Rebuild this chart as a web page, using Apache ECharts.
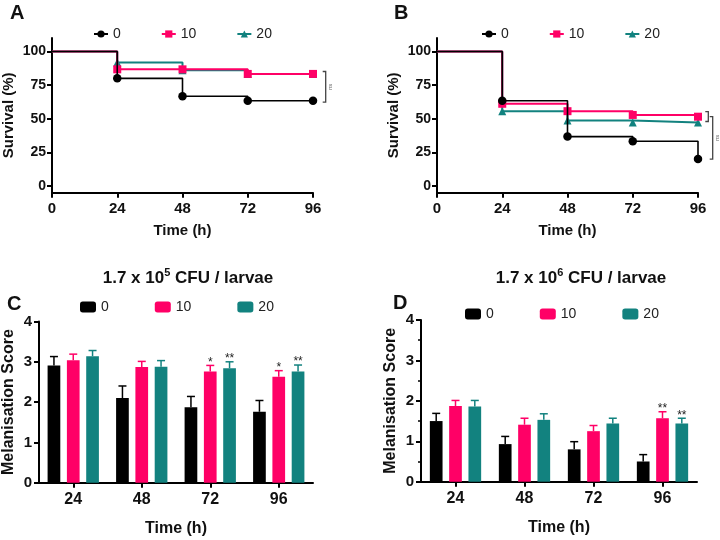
<!DOCTYPE html>
<html><head><meta charset="utf-8">
<script src="https://cdn.jsdelivr.net/npm/echarts@6/dist/echarts.min.js"></script>
<style>html,body{margin:0;padding:0;background:#fff}#c{width:720px;height:540px}</style>
</head><body><div id="c"></div>
<script>
// ---------- data ----------
const times = [0, 24, 48, 72, 96];
const survA0 = [100, 80, 66.7, 63.3, 63.3];
const survA10 = [100, 86.7, 86.7, 83.3, 83.3];
const survA20 = [100, 91.7, 86.1, 83.3, 83.3];
const survB0 = [100, 63.3, 36.7, 33.3, 20];
const survB10 = [100, 61.1, 55.6, 52.8, 51.5];
const survB20 = [100, 55.6, 48.6, 47.2, 47.2];
const survTicks = [0, 25, 50, 75, 100];

const timeCats = ['24', '48', '72', '96'];
const melC0 = [2.91, 2.10, 1.87, 1.76];
const errC0 = [0.22, 0.30, 0.27, 0.28];
const melC10 = [3.04, 2.87, 2.76, 2.63];
const errC10 = [0.15, 0.14, 0.15, 0.15];
const melC20 = [3.14, 2.88, 2.84, 2.76];
const errC20 = [0.14, 0.15, 0.16, 0.16];
const melD0 = [1.50, 0.93, 0.80, 0.50];
const errD0 = [0.19, 0.19, 0.19, 0.17];
const melD10 = [1.87, 1.41, 1.25, 1.57];
const errD10 = [0.14, 0.16, 0.14, 0.16];
const melD20 = [1.86, 1.53, 1.44, 1.44];
const errD20 = [0.15, 0.15, 0.13, 0.13];
const sigNone = ['', '', '', ''];
const sigC10 = ['', '', '*', '*'];
const sigC20 = ['', '', '**', '**'];
const sigD10 = ['', '', '', '**'];
const sigD20 = ['', '', '', '**'];

// ---------- style ----------
const FONT = 'Liberation Sans, Arial, sans-serif';
const BLACK = '#000000', PINK = '#ff0066', TEAL = '#12827f';
const COLORS = [BLACK, PINK, TEAL];
const BAR_W = 12.7, BAR_GAP = '52%', PITCH = 19.3;

const chart = echarts.init(document.getElementById('c'), null, {renderer: 'canvas'});

function survX(gi) {
  return {
    type: 'value', gridIndex: gi, min: 0, max: 96, interval: 24,
    name: 'Time (h)', nameLocation: 'middle', nameGap: 31,
    nameTextStyle: {fontFamily: FONT, fontWeight: 'bold', fontSize: 15, color: '#111'},
    axisLine: {onZero: false, lineStyle: {color: '#000', width: 2}},
    axisTick: {show: true, length: 5, lineStyle: {color: '#000', width: 2}},
    axisLabel: {fontFamily: FONT, fontWeight: 'bold', fontSize: 15, color: '#111', margin: 9},
    splitLine: {show: false}
  };
}
function survY(gi) {
  return {
    type: 'value', gridIndex: gi, min: -5, max: 110,
    name: 'Survival (%)', nameLocation: 'middle', nameGap: 36, nameRotate: 90,
    nameTextStyle: {fontFamily: FONT, fontWeight: 'bold', fontSize: 15, color: '#111'},
    axisLine: {show: true, onZero: false, lineStyle: {color: '#000', width: 2}},
    axisTick: {show: true, length: 5, customValues: survTicks, lineStyle: {color: '#000', width: 2}},
    axisLabel: {fontFamily: FONT, fontWeight: 'bold', fontSize: 14, color: '#111', margin: 6, customValues: survTicks},
    splitLine: {show: false}
  };
}
function barX(gi) {
  return {
    type: 'category', gridIndex: gi, data: timeCats,
    name: 'Time (h)', nameLocation: 'middle', nameGap: 38,
    nameTextStyle: {fontFamily: FONT, fontWeight: 'bold', fontSize: 16, color: '#111'},
    axisLine: {lineStyle: {color: '#000', width: 2}},
    axisTick: {show: true, alignWithLabel: true, length: 5, lineStyle: {color: '#000', width: 2}},
    axisLabel: {fontFamily: FONT, fontWeight: 'bold', fontSize: 16, color: '#111', margin: 9}
  };
}
function barY(gi, minor) {
  return {
    type: 'value', gridIndex: gi, min: 0, max: 4, interval: 1,
    name: 'Melanisation Score', nameLocation: 'middle', nameGap: 22, nameRotate: 90,
    nameTextStyle: {fontFamily: FONT, fontWeight: 'bold', fontSize: 16, color: '#111'},
    axisLine: {show: true, lineStyle: {color: '#000', width: 2}},
    axisTick: {show: true, length: 5, lineStyle: {color: '#000', width: 2}},
    minorTick: {show: minor, splitNumber: 2, length: 3, lineStyle: {color: '#000', width: 1.5}},
    axisLabel: {fontFamily: FONT, fontWeight: 'bold', fontSize: 15, color: '#111', margin: 7},
    splitLine: {show: false}
  };
}

const symbols = ['circle', 'rect', 'triangle'];
function survSeries(name, gi, vals, idx) {
  return {
    type: 'line', name: name, xAxisIndex: gi, yAxisIndex: gi, step: 'end',
    data: times.map((t, i) => i === 0 ? {value: [t, vals[i]], symbol: 'none'} : [t, vals[i]]),
    symbol: symbols[idx], symbolSize: idx === 0 ? 8.5 : 8,
    showAllSymbol: true,
    lineStyle: {color: COLORS[idx], width: idx === 0 ? 1.6 : 2},
    itemStyle: {color: COLORS[idx]},
    z: idx === 0 ? 4 : (idx === 1 ? 3 : 2),
    emphasis: {disabled: true}, animation: false
  };
}
function barSeries(name, gi, vals, idx) {
  return {
    type: 'bar', name: name, xAxisIndex: gi, yAxisIndex: gi, data: vals,
    barWidth: BAR_W, barGap: BAR_GAP,
    itemStyle: {color: COLORS[idx]}, z: 2, animation: false
  };
}
function errSeries(gi, vals, errs, sigs, idx) {
  return {
    type: 'custom', xAxisIndex: gi, yAxisIndex: gi, z: 5, animation: false,
    data: vals.map((v, i) => [i, v, errs[i]]),
    encode: {x: 0, y: 1},
    renderItem: function (params, api) {
      const i = api.value(0), v = api.value(1), e = api.value(2);
      const base = api.coord([i, v]);
      const top = api.coord([i, v + e]);
      const x = base[0] + (idx - 1) * PITCH;
      const children = [
        {type: 'line', shape: {x1: x, y1: base[1], x2: x, y2: top[1]}, style: {stroke: COLORS[idx], lineWidth: 1.5}},
        {type: 'line', shape: {x1: x - 4, y1: top[1], x2: x + 4, y2: top[1]}, style: {stroke: COLORS[idx], lineWidth: 1.5}}
      ];
      const s = sigs[params.dataIndex];
      if (s) children.push({type: 'text', style: {x: x, y: top[1] + 3, text: s, align: 'center', verticalAlign: 'bottom',
        font: '12px ' + FONT, fill: '#222'}});
      return {type: 'group', children: children};
    }
  };
}

const lineLegend = {
  orient: 'horizontal', padding: 0, formatter: n => n.slice(1),
  textStyle: {fontFamily: FONT, fontSize: 14, color: '#222'},
  itemWidth: 14, itemHeight: 9, itemGap: 40, selectedMode: false
};
const barLegend = {
  orient: 'horizontal', padding: 0, formatter: n => n.slice(1),
  textStyle: {fontFamily: FONT, fontSize: 14, color: '#222'},
  itemWidth: 16, itemHeight: 11, itemGap: 46, selectedMode: false
};

const titleRich = {
  n: {fontFamily: FONT, fontWeight: 'bold', fontSize: 17, color: '#111', lineHeight: 22},
  s: {fontFamily: FONT, fontWeight: 'bold', fontSize: 11, color: '#111', verticalAlign: 'top', lineHeight: 11}
};
const letterStyle = {fontFamily: FONT, fontWeight: 'bold', fontSize: 20, color: '#111'};

const option = {
  backgroundColor: '#fff',
  animation: false,
  title: [
    {text: 'A', left: 10, top: 3, padding: 0, textStyle: letterStyle},
    {text: 'B', left: 394, top: 3, padding: 0, textStyle: letterStyle},
    {text: 'C', left: 7, top: 294, padding: 0, textStyle: letterStyle},
    {text: 'D', left: 393, top: 293, padding: 0, textStyle: letterStyle},
    {text: '{n|1.7 x 10}{s|5}{n| CFU / larvae}', left: 188, top: 267, padding: 0, textAlign: 'center',
      textStyle: {rich: titleRich}},
    {text: '{n|1.7 x 10}{s|6}{n| CFU / larvae}', left: 581, top: 267, padding: 0, textAlign: 'center',
      textStyle: {rich: titleRich}}
  ],
  legend: [
    Object.assign({}, lineLegend, {data: ['A0', 'A10', 'A20'], left: 93, top: 27}),
    Object.assign({}, lineLegend, {data: ['B0', 'B10', 'B20'], left: 481, top: 27}),
    Object.assign({}, barLegend, {data: ['C0', 'C10', 'C20'], left: 80, top: 300}),
    Object.assign({}, barLegend, {data: ['D0', 'D10', 'D20'], left: 465, top: 307})
  ],
  grid: [
    {left: 52, top: 38, width: 261, height: 154.7},
    {left: 437, top: 38, width: 261, height: 154.7},
    {left: 37, top: 321.5, width: 276, height: 161.2},
    {left: 421, top: 320, width: 276, height: 161.7}
  ],
  xAxis: [survX(0), survX(1), barX(2), barX(3)],
  yAxis: [survY(0), survY(1), barY(2, false), barY(3, true)],
  series: [
    survSeries('A20', 0, survA20, 2), survSeries('A10', 0, survA10, 1), survSeries('A0', 0, survA0, 0),
    survSeries('B20', 1, survB20, 2), survSeries('B10', 1, survB10, 1), survSeries('B0', 1, survB0, 0),
    barSeries('C0', 2, melC0, 0), barSeries('C10', 2, melC10, 1), barSeries('C20', 2, melC20, 2),
    barSeries('D0', 3, melD0, 0), barSeries('D10', 3, melD10, 1), barSeries('D20', 3, melD20, 2),
    errSeries(2, melC0, errC0, sigNone, 0), errSeries(2, melC10, errC10, sigC10, 1), errSeries(2, melC20, errC20, sigC20, 2),
    errSeries(3, melD0, errD0, sigNone, 0), errSeries(3, melD10, errD10, sigD10, 1), errSeries(3, melD20, errD20, sigD20, 2)
  ]
};
chart.setOption(option);

// ---------- significance brackets (annotations placed from data via the chart's scales) ----------
function bracketEls(x, y1, y2, label) {
  const els = [{type: 'polyline', shape: {points: [[x - 3, y1], [x, y1], [x, y2], [x - 3, y2]]},
    style: {stroke: '#444', lineWidth: 1.3, fill: null}, z: 10}];
  if (label) els.push({type: 'text', x: x + 5, y: (y1 + y2) / 2, rotation: Math.PI / 2,
    style: {text: label, font: '6px ' + FONT, fill: '#666', align: 'center', verticalAlign: 'middle'}, z: 10});
  return els;
}
const last = times.length - 1;
const px = (gi, v) => chart.convertToPixel({gridIndex: gi}, [times[last], v]);
// panel A: 10/20 vs 0
const aTop = px(0, survA10[last]), aBot = px(0, survA0[last]);
const elsA = bracketEls(aTop[0] + 12.7, aTop[1] - 2.4, aBot[1] + 1.3, 'ns');
// panel B: 10 vs 20, then (10,20) vs 0
const bTop = px(1, survB10[last]), bMid = px(1, survB20[last]), bBot = px(1, survB0[last]);
const sx = bTop[0] + 10.3, sy1 = bTop[1] - 5, sy2 = bMid[1] - 1;
const elsB1 = bracketEls(sx, sy1, sy2, null);
const elsB2 = bracketEls(sx + 4.4, (sy1 + sy2) / 2, bBot[1], 'ns');
chart.setOption({graphic: elsA.concat(elsB1, elsB2)});
</script>
</body></html>
